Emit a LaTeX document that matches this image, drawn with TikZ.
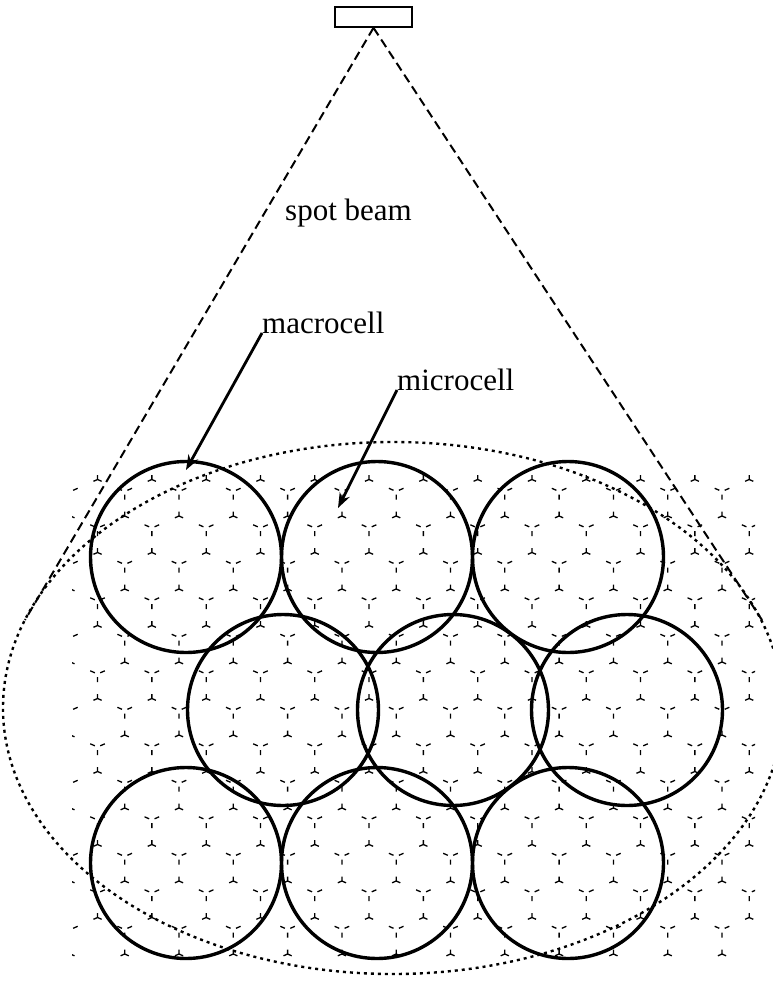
\documentclass[tikz,border=0pt]{standalone}
\usepackage{fontspec}
\setmainfont{Liberation Serif}
\usetikzlibrary{arrows.meta}
\tikzset{
  cell/.style={line width=3.4bp},
  beam/.style={line width=2bp,dash pattern=on 9bp off 5bp},
  rim/.style={line width=2.4bp,dash pattern=on 3bp off 4bp},
  stub/.style={line width=1.3bp},
  pointer/.style={line width=2.8bp,-{Stealth[length=15bp,width=11bp]}},
  lbl/.style={inner sep=0pt,anchor=base west,font=\fontsize{31bp}{36bp}\selectfont}
}
\begin{document}
\begin{tikzpicture}[x=1bp,y=-1bp]
\useasboundingbox (0,0) rectangle (773,981);
\clip (0,0) rectangle (773,981);
% microcell grid, only the stubs at the corners
\begin{scope}
\clip (72,474) rectangle (755,981);
\foreach \r in {0,...,13}
 \foreach \j in {-3,...,11}{
  \pgfmathsetmacro\hx{179+54.3*\j-27.15*mod(\r+1,2)}
  \pgfmathsetmacro\hy{479.5+36.5*\r}
  \draw[stub] (\hx,\hy)--++(0,-4.5) (\hx,\hy)--++(-4.1,1.8) (\hx,\hy)--++(4.1,1.8);
  \draw[stub] (\hx-2.7,\hy-25.7)--++(-4.6,-2) (\hx+2.7,\hy-25.7)--++(4.6,-2) (\hx,\hy-21.5)--++(0,5);
 }
\end{scope}
% coverage of the spot beam
\draw[rim] (393,708) ellipse[x radius=390,y radius=266];
% macrocells
\foreach \cx/\cy in {186/557,377/557,568/557,283/710,453/710,627/710,186/863,377/863,568/863}
  \draw[cell] (\cx,\cy) circle[radius=95.5];
% satellite and beam
\node[draw,line width=1.6bp,minimum width=77bp,minimum height=20bp,inner sep=0pt] (sat) at (373.5,17) {};
\coordinate (beamL) at (25,620);
\coordinate (beamR) at (762,620);
\draw[beam] (sat.south)--(beamL) (sat.south)--(beamR);
% labels
\node[lbl] (spotlbl) at (285,220) {spot beam};
\node[lbl] (macrolbl) at (262,333) {macrocell};
\node[lbl] (microlbl) at (397,390) {microcell};
\coordinate (macrotip) at (186,470);
\coordinate (microtip) at (338,508);
\draw[pointer] (macrolbl.base west)--(macrotip);
\draw[pointer] (microlbl.base west)--(microtip);
\end{tikzpicture}
\end{document}
